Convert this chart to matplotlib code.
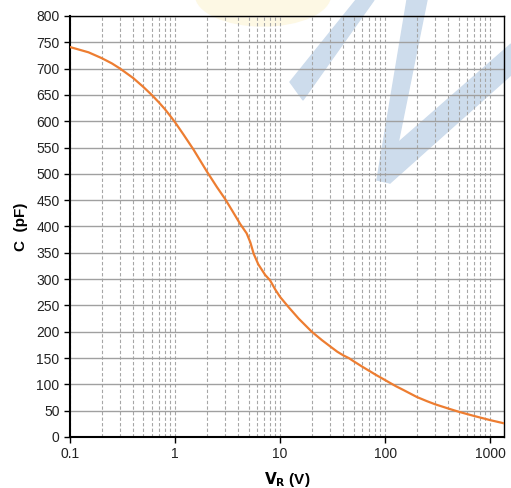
import numpy as np
import matplotlib.pyplot as plt
from matplotlib.patches import Polygon, Ellipse
from matplotlib.ticker import LogLocator, FixedLocator

plt.rcParams['font.family'] = ['Liberation Sans', 'DejaVu Sans']

# reverse voltage (V) and capacitance (pF)
vr = [0.1, 0.15, 0.2, 0.25, 0.3, 0.4, 0.5, 0.6, 0.7, 0.8, 0.9, 1.0, 1.2,
      1.5, 2.0, 2.5, 3.0, 3.5, 4.16, 4.8, 5.2, 5.6, 6.2, 7.2, 8.0, 9.0,
      10, 12, 15, 20, 25, 30, 35, 40, 45, 50, 60, 70, 80, 100, 125,
      150, 200, 250, 300, 400, 500, 700, 1000, 1350]
cap = [741, 731, 720, 710, 700, 682, 665, 650, 636, 623, 610, 598, 575,
       546, 505, 475, 452, 430, 405, 387, 370, 348, 328, 308, 298, 280,
       266, 247, 225, 200, 184, 172, 162, 155, 150, 144, 134, 126, 119,
       108, 97, 89, 76, 68, 62, 54, 48, 40, 32, 26]

xticks = [0.1, 1, 10, 100, 1000]
xticklabels = ['0.1', '1', '10', '100', '1000']
yticks = list(range(0, 801, 50))

fig = plt.figure(figsize=(5.11, 4.88), dpi=100)
W, H = 511, 488

# faint logo watermark behind the plot
def px(pts):
    return [(x / W, 1 - y / H) for x, y in pts]

wm = dict(transform=fig.transFigure, zorder=-5)
fig.patches.append(Ellipse((263 / W, 1 - (-5) / H), 135 / W, 62 / H,
                           color='#fdf8e4', **wm))
blue = '#cddcec'
fig.patches.append(Polygon(px([(290, 82), (356, 0), (374, 0), (303, 100)]),
                           closed=True, color=blue, **wm))
fig.patches.append(Polygon(px([(407, 0), (427, 0), (390, 183), (377, 180)]),
                           closed=True, color=blue, **wm))
fig.patches.append(Polygon(px([(384, 155), (511, 44), (511, 75), (390, 183)]),
                           closed=True, color=blue, **wm))

ax = fig.add_axes([70 / W, 1 - 437 / H, 434 / W, 421 / H])
ax.patch.set_alpha(0)

ax.plot(vr, cap, color='#ed7d31', lw=1.6, zorder=3)

ax.set_xscale('log')
ax.set_xlim(0.1, 1350)
ax.set_ylim(0, 800)
ax.xaxis.set_major_locator(FixedLocator(xticks))
ax.set_xticklabels(xticklabels)
ax.xaxis.set_minor_locator(LogLocator(base=10, subs=np.arange(2, 10), numticks=20))
ax.set_yticks(yticks)

ax.grid(True, which='major', axis='y', color='#a0a0a0', lw=1, ls='-')
ax.grid(True, which='both', axis='x', color='#a6a6a6', lw=0.8, ls=(0, (3, 2)))
ax.set_axisbelow(True)

ax.tick_params(axis='both', which='major', labelsize=10, length=4, width=1,
               color='black', labelcolor='#222222')
ax.tick_params(axis='x', which='minor', length=0)
for s in ax.spines.values():
    s.set_color('black')
    s.set_linewidth(1)
ax.spines['left'].set_linewidth(1.5)
ax.spines['bottom'].set_linewidth(1.5)

ax.set_xlabel(r'$\mathbf{V_R}$ (V)', fontsize=11, fontweight='bold', labelpad=6)
ax.set_ylabel('C  (pF)', fontsize=11, fontweight='bold', labelpad=6)

fig.savefig('out.png', dpi=100)
